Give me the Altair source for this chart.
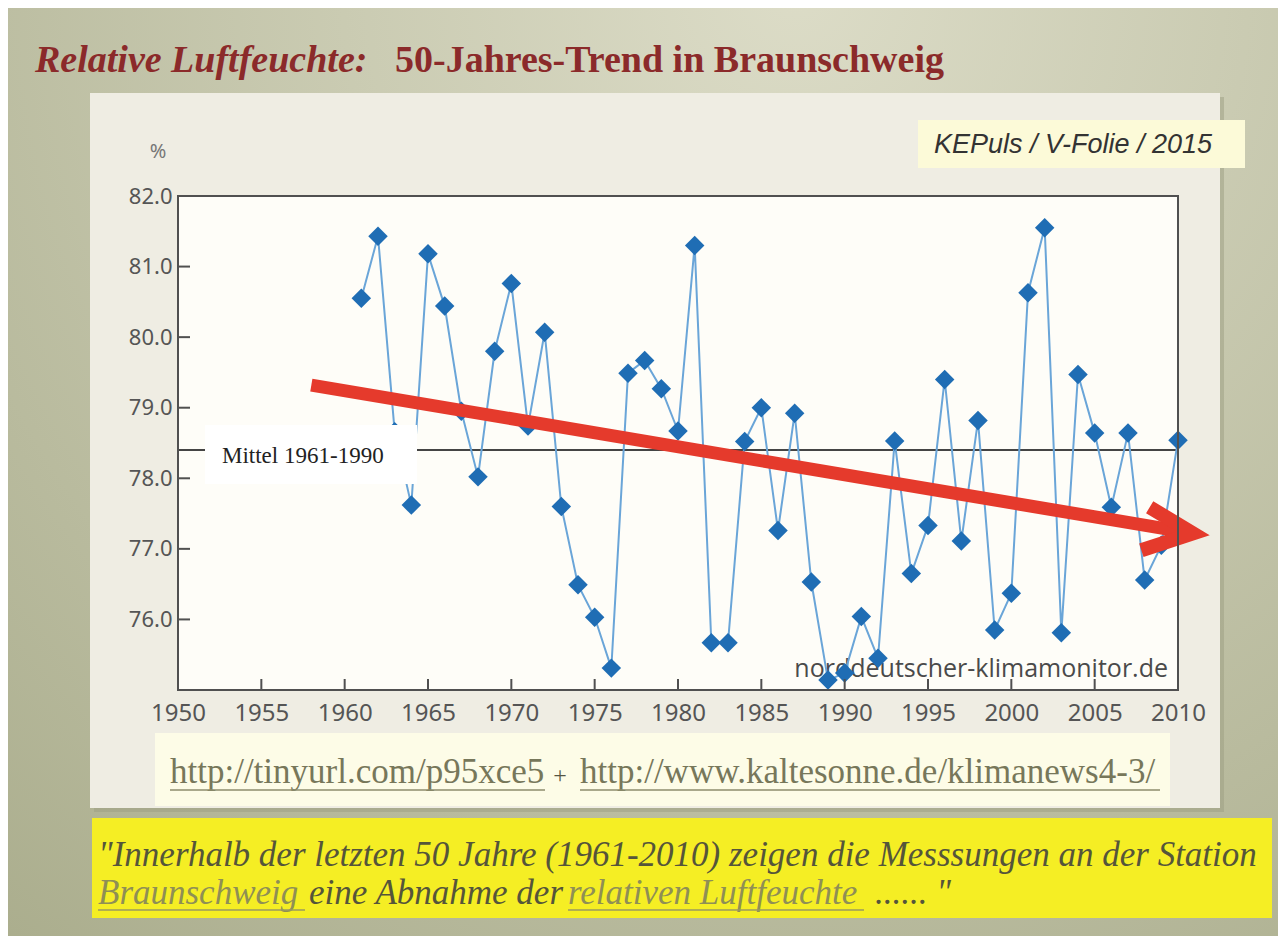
import altair as alt
import pandas as pd

# ---------------- data ----------------
years = list(range(1961, 2011))
humidity = [80.55, 81.43, 78.66, 77.62, 81.18, 80.44, 78.95, 78.02, 79.80, 80.76,
            78.74, 80.07, 77.60, 76.49, 76.03, 75.31, 79.49, 79.67, 79.27, 78.67,
            81.30, 75.67, 75.67, 78.52, 79.00, 77.26, 78.92, 76.53, 75.14, 75.24,
            76.04, 75.45, 78.53, 76.65, 77.33, 79.40, 77.11, 78.82, 75.85, 76.37,
            80.63, 81.55, 75.81, 79.47, 78.64, 77.59, 78.64, 76.56, 77.05, 78.54]
mittel_value = [78.4]
x_tick_labels = [1950, 1955, 1960, 1965, 1970, 1975, 1980, 1985, 1990, 1995, 2000, 2005, 2010]
y_tick_labels = [76, 77, 78, 79, 80, 81, 82]
x_inner_ticks = [1955, 1960, 1965, 1970, 1975, 1980, 1985, 1990, 1995, 2000, 2005]
y_inner_ticks = [76, 77, 78, 79, 80, 81]
trend_years = [1958.0, 2010.9]
trend_values = [79.32, 77.22]
head_years = [2008.3, 2010.9, 2007.8]
head_values = [77.59, 77.22, 76.98]

title_italic = "Relative Luftfeuchte:"
title_rest = "50-Jahres-Trend in Braunschweig"
credit = "KEPuls / V-Folie / 2015"
unit = "%"
mittel_label = "Mittel 1961-1990"
watermark = "norddeutscher-klimamonitor.de"
url1 = "http://tinyurl.com/p95xce5"
url2 = "http://www.kaltesonne.de/klimanews4-3/"
quote1 = "\"Innerhalb der letzten 50 Jahre (1961-2010) zeigen die Messsungen an der Station"
quote2a = "Braunschweig"
quote2b = "eine Abnahme der"
quote2c = "relativen Luftfeuchte"
quote2d = "...... \""

W, H = 1000, 494

series = pd.DataFrame({"year": years, "value": humidity})
mittel_df = pd.DataFrame({"value": mittel_value})
trend_df = pd.DataFrame({"year": trend_years, "value": trend_values})
head_df = pd.DataFrame({"year": head_years, "value": head_values, "o": [0, 1, 2]})
xt_df = pd.DataFrame({"year": x_inner_ticks})
yt_df = pd.DataFrame({"value": y_inner_ticks})
one = pd.DataFrame({"a": [0]})

xscale = alt.Scale(domain=[1950, 2010], nice=False, zero=False)
yscale = alt.Scale(domain=[75, 82], nice=False, zero=False)
axX = alt.Axis(title=None, values=x_tick_labels, format="d", labelFont="Noto Sans",
               labelFontSize=24, labelColor="#555555", domain=False, ticks=False,
               grid=False, labelPadding=11, labelFlush=False, labelOverlap=False, zindex=1)
axY = alt.Axis(title=None, values=y_tick_labels, format=".1f", labelFont="Noto Sans",
               labelFontSize=22, labelColor="#555555", domain=False, ticks=False,
               grid=False, labelPadding=6, labelOverlap=False, zindex=1)
X = alt.X("year:Q", scale=xscale, axis=axX)
Y = alt.Y("value:Q", scale=yscale, axis=axY)


def box(x1, x2, y1, y2, **kw):
    return alt.Chart(one).mark_rect(**kw).encode(
        x=alt.value(x1), x2=alt.value(x2), y=alt.value(y1), y2=alt.value(y2))


def label(txt, x, y, **kw):
    kw.setdefault("align", "left")
    kw.setdefault("baseline", "alphabetic")
    return alt.Chart(one).mark_text(text=txt, **kw).encode(x=alt.value(x), y=alt.value(y))


def hline(x1, x2, y, color, width=1.5):
    return alt.Chart(one).mark_rule(color=color, strokeWidth=width).encode(
        x=alt.value(x1), x2=alt.value(x2), y=alt.value(y))


bg = box(-170, 1100, -188, 740, color=alt.RadialGradient(
    gradient="radial",
    stops=[alt.GradientStop(offset=0, color="#dcdcc7"),
           alt.GradientStop(offset=1, color="#a7aa89")],
    x1=0.62, y1=0.12, r1=0, x2=0.62, y2=0.12, r2=1.05))
shadow = box(-84, 1046, -99, 616, color="#9c9e82", opacity=0.5)
panel = box(-88, 1042, -103, 612, color="#efede3")
plotfill = box(0, W, 0, H, color="#fefdf8")
kep_box = box(740, 1067, -76, -28, color="#fcfad8")
kep_txt = label(credit, 895, -43, align="center", font="Liberation Sans", fontStyle="italic",
                fontSize=27, color="#333333")
pct = label(unit, -20, -38, align="center", font="Noto Sans", fontSize=20, color="#777777")
t1 = label(title_italic, -143, -124, font="Liberation Serif", fontStyle="italic",
           fontWeight="bold", fontSize=38, color="#8b2a2a")
t2 = label(title_rest, 217, -124, font="Liberation Serif", fontWeight="bold",
           fontSize=38, color="#8b2a2a")

mittel = alt.Chart(mittel_df).mark_rule(color="#444444", strokeWidth=2).encode(
    y=Y, x=alt.value(0), x2=alt.value(W))
wm = label(watermark, 990, 481, align="right", font="Open Sans", fontSize=25, color="#4a4a4a")
line = alt.Chart(series).mark_line(color="#6aa5d8", strokeWidth=2).encode(x=X, y=Y)
pts = alt.Chart(series).mark_point(shape="diamond", filled=True, size=380, opacity=1,
                                   color="#1f6db4").encode(x=X, y=Y)
mbox = box(27, 239, 229, 288, color="#ffffff")
mtxt = label(mittel_label, 44, 267, font="Liberation Serif", fontSize=23, color="#222222")

shaft = alt.Chart(trend_df).mark_line(color="#e53a2c", strokeWidth=13, strokeCap="butt").encode(x=X, y=Y)
head = alt.Chart(head_df).mark_line(color="#e53a2c", strokeWidth=14, strokeCap="butt",
                                    strokeJoin="miter").encode(x=X, y=Y, order="o:Q")

frame = box(0, W, 0, H, fillOpacity=0, stroke="#505050", strokeWidth=2)
xt = alt.Chart(xt_df).mark_rule(color="#505050", strokeWidth=2).encode(
    x=X, y=alt.value(H), y2=alt.value(H - 11))
yt = alt.Chart(yt_df).mark_rule(color="#505050", strokeWidth=2).encode(
    y=Y, x=alt.value(0), x2=alt.value(12))

url_box = box(-23, 992, 537, 610, color="#fdfce7")
u1 = label(url1, -8, 587, font="Liberation Serif", fontSize=35, color="#77775a")
uplus = label("+", 382, 587, align="center", font="Liberation Serif", fontSize=24, color="#555544")
u2 = label(url2, 402, 587, font="Liberation Serif", fontSize=35, color="#77775a")
ul1 = hline(-8, 367, 594, "#8d8d6c", 1.5)
ul2 = hline(402, 982, 594, "#8d8d6c", 1.5)

q_box = box(-86, 1094, 622, 722, color="#f5ee24")
qfont = dict(font="Liberation Serif", fontStyle="italic", fontSize=35)
q1 = label(quote1, -80, 670, color="#55553a", **qfont)
q2a = label(quote2a, -80, 708, color="#8f8f55", **qfont)
q2b = label(quote2b, 131, 708, color="#55553a", **qfont)
q2c = label(quote2c, 390, 708, color="#8f8f55", **qfont)
q2d = label(quote2d, 697, 708, color="#55553a", **qfont)
ql1 = hline(-80, 127, 714, "#9a9a5e", 1.5)
ql2 = hline(390, 686, 714, "#9a9a5e", 1.5)

chart = alt.layer(
    bg, shadow, panel, plotfill, kep_box, kep_txt, pct, t1, t2,
    mittel, wm, line, pts, mbox, mtxt, shaft, head, frame, xt, yt,
    url_box, u1, uplus, u2, ul1, ul2,
    q_box, q1, q2a, q2b, q2c, q2d, ql1, ql2,
).properties(
    width=W, height=H,
    autosize=alt.AutoSizeParams(type="none"),
    padding={"left": 170, "top": 188, "right": 100, "bottom": 246},
).configure_view(stroke="transparent").configure(background="#c8c9ab")

chart.save("out.html", embed_options={"renderer": "svg", "actions": False})
